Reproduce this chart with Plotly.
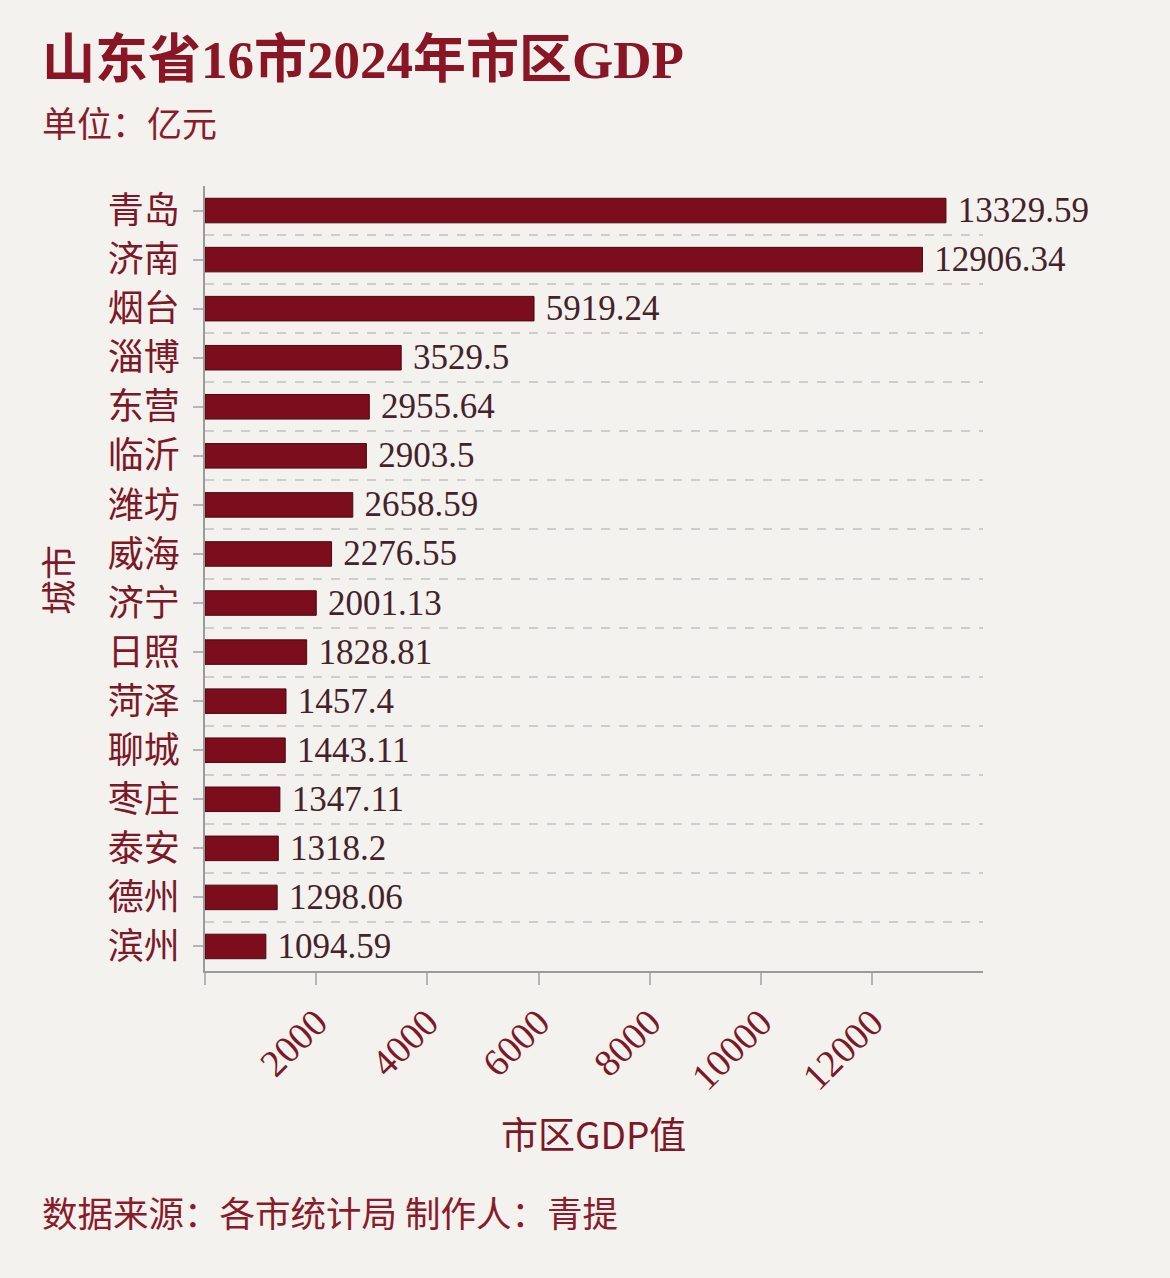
import plotly.graph_objects as go

cities = ["青岛", "济南", "烟台", "淄博", "东营", "临沂", "潍坊", "威海",
          "济宁", "日照", "菏泽", "聊城", "枣庄", "泰安", "德州", "滨州"]
gdp = [13329.59, 12906.34, 5919.24, 3529.5, 2955.64, 2903.5, 2658.59, 2276.55,
       2001.13, 1828.81, 1457.4, 1443.11, 1347.11, 1318.2, 1298.06, 1094.59]
x_ticks = [0, 2000, 4000, 6000, 8000, 10000, 12000]
x_ticktext = ["", "2000", "4000", "6000", "8000", "10000", "12000"]

n = len(cities)
ypos = [n - 1 - i for i in range(n)]

BG = "#f3f2ef"
RED = "#7b0d1c"
TXT = "#7d1826"
SERIF = "Liberation Serif, Noto Sans CJK SC"
SANS = "Noto Sans CJK SC, Noto Sans"

fig = go.Figure()
fig.add_trace(go.Bar(
    x=gdp, y=ypos, orientation="h", width=0.5,
    marker=dict(color=RED, line=dict(color="#4d0810", width=1)),
    text=["\u2005" + str(v) for v in gdp], textposition="outside",
    textfont=dict(family="Liberation Serif", size=35, color="#45222a"),
    cliponaxis=False, constraintext="none", hoverinfo="skip",
))

fig.update_layout(
    width=1170, height=1278,
    paper_bgcolor=BG, plot_bgcolor=BG,
    margin=dict(l=205, r=187, t=186, b=307),
    showlegend=False,
    xaxis=dict(
        range=[0, 13996], tickvals=x_ticks, ticktext=x_ticktext,
        tickangle=-45, showgrid=False, zeroline=False,
        showline=True, linecolor="#9b9b9b", linewidth=2,
        ticks="outside", ticklen=12, tickcolor="#b5b5b5", tickwidth=1.5,
        tickfont=dict(family="Liberation Serif", size=38, color=TXT),
        ticklabelstandoff=0,
    ),
    yaxis=dict(
        range=[-0.5, n - 0.5], tickvals=ypos, ticktext=cities,
        showgrid=False, zeroline=False,
        showline=True, linecolor="#9b9b9b", linewidth=2,
        ticks="outside", ticklen=10, tickcolor="#b5b5b5", tickwidth=1.5,
        tickfont=dict(family=SANS, size=36, color=TXT),
        ticklabelstandoff=6,
        minor=dict(tickvals=[k + 0.5 for k in range(n)], showgrid=True,
                   gridcolor="#cdcdcd", griddash="dash", gridwidth=1.5,
                   ticklen=0),
    ),
)

anns = [
    dict(text="<b>山东省16市2024年市区GDP</b>", x=(40 - 205) / 778, y=(971 - 60) / 785,
         font=dict(family=SERIF, size=53, color="#8a1524")),
    dict(text="单位：亿元", x=(40 - 205) / 778, y=(971 - 121) / 785,
         font=dict(family=SANS, size=35, color="#8a1c2a")),
    dict(text="数据来源：各市统计局 制作人：青提", x=(40 - 205) / 778, y=(971 - 1211) / 785,
         font=dict(family=SANS, size=35.5, color="#8a1c2a")),
]
for a in anns:
    fig.add_annotation(xref="paper", yref="paper", xanchor="left", yanchor="middle",
                       showarrow=False, **a)

fig.add_annotation(text="市区GDP值", xref="paper", yref="paper",
                   x=(593 - 205) / 778, y=(971 - 1133) / 785,
                   xanchor="center", yanchor="middle", showarrow=False,
                   font=dict(family=SANS, size=37, color=TXT))
fig.add_annotation(text="城市", xref="paper", yref="paper",
                   x=(56 - 205) / 778, y=(971 - 580) / 785, textangle=-90,
                   xanchor="center", yanchor="middle", showarrow=False,
                   font=dict(family=SANS, size=35, color=TXT))

fig.write_html(
    "out.html",
    config={"displayModeBar": False},
    post_script="document.body.style.margin='0';document.body.style.background='#f3f2ef';",
)
